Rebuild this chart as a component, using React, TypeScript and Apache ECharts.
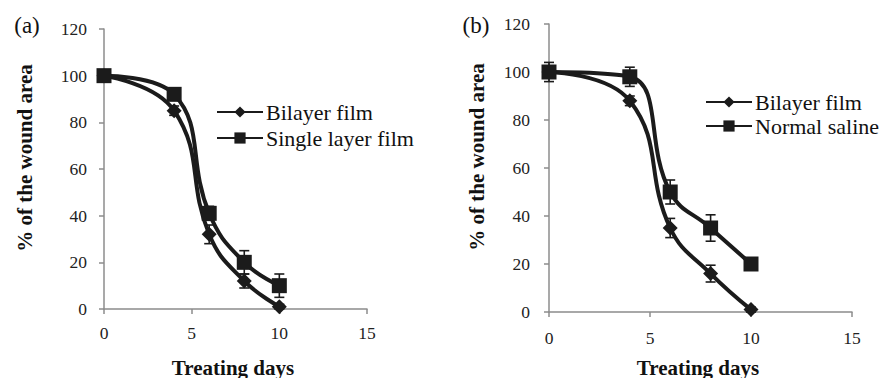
import React, { useEffect, useRef } from "react";
import * as echarts from "echarts";

const days = [0, 4, 6, 8, 10];
const aBilayer = [100, 85, 32, 12, 1];
const aBilayerErr = [1, 2, 4, 3, 1];
const aSingle = [100, 92, 41, 20, 10];
const aSingleErr = [1, 2, 3, 5, 5];
const bBilayer = [100, 88, 35, 16, 1];
const bBilayerErr = [2, 2, 4, 3.5, 1];
const bSaline = [100, 98, 50, 35, 20];
const bSalineErr = [4, 4, 5, 5.5, 2];
const xTicks = [0, 5, 10, 15];
const yTicks = [0, 20, 40, 60, 80, 100, 120];

const INK = "#1b1b1b";
const AXIS = "#8c8c8c";
const SERIF = "Liberation Serif";

function pairs(v: number[]) {
  return days.map((d, i) => [d, v[i]]);
}
function errData(v: number[], e: number[]) {
  return days.map((d, i) => [d, v[i] - e[i], v[i] + e[i]]);
}

function errSeries(name: string, v: number[], e: number[], idx: number) {
  return {
    type: "custom",
    name: name + " err",
    xAxisIndex: idx,
    yAxisIndex: idx,
    z: 1,
    silent: true,
    data: errData(v, e),
    renderItem: (params: any, api: any) => {
      const x = api.value(0);
      const lo = api.coord([x, api.value(1)]);
      const hi = api.coord([x, api.value(2)]);
      const cap = 5;
      const st = { stroke: INK, lineWidth: 1.6 };
      return {
        type: "group",
        children: [
          { type: "line", shape: { x1: lo[0], y1: lo[1], x2: hi[0], y2: hi[1] }, style: st },
          { type: "line", shape: { x1: lo[0] - cap, y1: lo[1], x2: lo[0] + cap, y2: lo[1] }, style: st },
          { type: "line", shape: { x1: hi[0] - cap, y1: hi[1], x2: hi[0] + cap, y2: hi[1] }, style: st },
        ],
      };
    },
  };
}

function lineSeries(name: string, v: number[], idx: number, symbol: string, size: number) {
  return {
    type: "line",
    name,
    xAxisIndex: idx,
    yAxisIndex: idx,
    data: pairs(v),
    smooth: 0.45,
    symbol,
    symbolSize: size,
    z: 3,
    lineStyle: { color: INK, width: 4 },
    itemStyle: { color: INK },
  };
}

function xAxis(idx: number, margin: number) {
  return {
    type: "value",
    gridIndex: idx,
    min: xTicks[0],
    max: xTicks[xTicks.length - 1],
    interval: 5,
    splitLine: { show: false },
    axisLine: { show: true, onZero: false, lineStyle: { color: AXIS, width: 1.5 } },
    axisTick: { show: true, inside: false, length: 5, lineStyle: { color: AXIS, width: 1.5 } },
    axisLabel: { color: "#222", fontFamily: SERIF, fontSize: 17.5, margin },
  };
}
function yAxis(idx: number, margin: number) {
  return {
    type: "value",
    gridIndex: idx,
    min: yTicks[0],
    max: yTicks[yTicks.length - 1],
    interval: 20,
    splitLine: { show: false },
    axisLine: { show: true, lineStyle: { color: AXIS, width: 1.5 } },
    axisTick: { show: true, inside: false, length: 5, lineStyle: { color: AXIS, width: 1.5 } },
    axisLabel: { color: "#222", fontFamily: SERIF, fontSize: 17.5, margin },
  };
}

function legend(names: string[], left: number, top: number, gap: number) {
  return {
    data: names,
    orient: "vertical",
    left,
    top,
    itemGap: gap,
    itemWidth: 46,
    itemHeight: 14,
    selectedMode: false,
    textStyle: { color: "#111", fontFamily: SERIF, fontSize: 22, padding: [0, 0, 0, -2] },
  };
}

export default function App() {
  const ref = useRef<HTMLDivElement>(null);
  useEffect(() => {
    if (!ref.current) return;
    const chart = echarts.init(ref.current, null, { renderer: "svg" });
    const titleStyle = { fill: "#111", fontFamily: SERIF, fontWeight: "bold", fontSize: 21 };
    chart.setOption({
      animation: false,
      backgroundColor: "#fff",
      textStyle: { fontFamily: SERIF },
      grid: [
        { left: 104, top: 29, width: 263, height: 280 },
        { left: 549, top: 24, width: 303, height: 288 },
      ],
      xAxis: [xAxis(0, 15), xAxis(1, 17)],
      yAxis: [yAxis(0, 17), yAxis(1, 19)],
      legend: [
        legend(["Bilayer film", "Single layer film"], 211, 96, 4),
        legend(["Bilayer film", "Normal saline"], 700, 86, 2),
      ],
      series: [
        errSeries("a bilayer", aBilayer, aBilayerErr, 0),
        errSeries("a single", aSingle, aSingleErr, 0),
        errSeries("b bilayer", bBilayer, bBilayerErr, 1),
        errSeries("b saline", bSaline, bSalineErr, 1),
        lineSeries("Bilayer film", aBilayer, 0, "diamond", 15),
        lineSeries("Single layer film", aSingle, 0, "rect", 15),
        lineSeries("Bilayer film", bBilayer, 1, "diamond", 15),
        lineSeries("Normal saline", bSaline, 1, "rect", 15),
      ],
      graphic: [
        { type: "text", x: 27, y: 25, style: { text: "(a)", fill: "#111", fontFamily: SERIF, fontSize: 23, textAlign: "center", textVerticalAlign: "middle" } },
        { type: "text", x: 476, y: 25, style: { text: "(b)", fill: "#111", fontFamily: SERIF, fontSize: 23, textAlign: "center", textVerticalAlign: "middle" } },
        { type: "text", x: 25, y: 158, rotation: Math.PI / 2, style: { ...titleStyle, text: "% of the wound area", textAlign: "center", textVerticalAlign: "middle" } },
        { type: "text", x: 477, y: 157, rotation: Math.PI / 2, style: { ...titleStyle, text: "% of the wound area", textAlign: "center", textVerticalAlign: "middle" } },
        { type: "text", x: 233, y: 368, style: { ...titleStyle, text: "Treating days", textAlign: "center", textVerticalAlign: "middle" } },
        { type: "text", x: 698, y: 368, style: { ...titleStyle, text: "Treating days", textAlign: "center", textVerticalAlign: "middle" } },
      ],
    });
    return () => chart.dispose();
  }, []);
  return (
    <div
      ref={ref}
      style={{ position: "fixed", left: 0, top: 0, width: 879, height: 378, background: "#fff" }}
    />
  );
}
